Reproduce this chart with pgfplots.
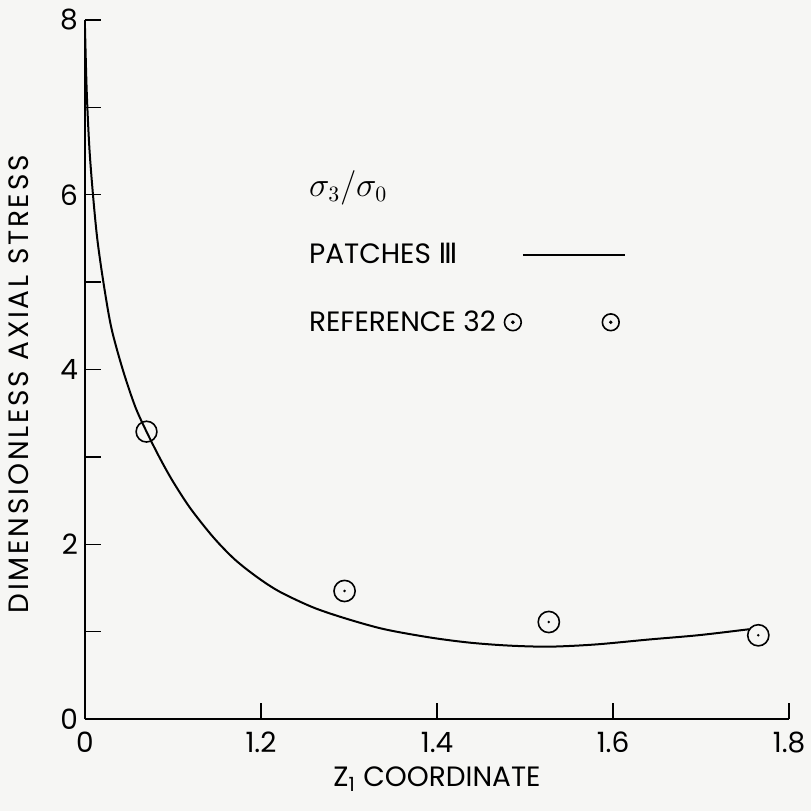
\documentclass[border=0pt]{standalone}
\usepackage{fontspec}
\setmainfont{Poppins}
\newfontfamily\ylfont{Poppins}[LetterSpace=10]
\newfontfamily\dejavu{DejaVu Sans}
\usepackage{pgfplots}
\pgfplotsset{compat=1.18}
\definecolor{paper}{RGB}{246,246,244}
\pgfdeclareplotmark{odot}{%
  \pgfpathcircle{\pgfpointorigin}{\pgfplotmarksize}\pgfusepathqstroke
  \pgfpathcircle{\pgfpointorigin}{0.7pt}\pgfusepathqfill}
\newcommand{\lbl}{\fontsize{14}{16}\selectfont}

\begin{document}
\begin{tikzpicture}
\fill[paper] (-42.5pt,-46pt) rectangle (363.5pt,360pt);
\begin{axis}[
    width=352.5pt, height=350pt, scale only axis,
    xmin=1.0, xmax=1.8, ymin=0, ymax=8,
    axis lines*=left,
    axis line style={line width=0.8pt},
    xtick={1.0,1.2,1.4,1.6,1.8},
    xticklabels={0,1.2,1.4,1.6,1.8},
    ytick={0,1,...,8},
    yticklabels={0,,2,,4,,6,,8},
    tick align=inside,
    major tick length=8pt,
    tick style={line width=0.7pt, black},
    ticklabel style={font=\lbl},
    xticklabel style={yshift=-3pt},
    xlabel={Z\textsubscript{1} COORDINATE},
    ylabel={DIMENSIONLESS AXIAL STRESS},
    x label style={at={(axis description cs:0.5,-0.068)}, anchor=north, inner sep=0pt, font=\lbl},
    y label style={at={(axis description cs:-0.094,0.479)}, anchor=center, inner sep=0pt,
        font={\ylfont\lbl}},
    legend plot pos=right,
    legend style={at={(axis cs:1.2497,6.33)}, anchor=north west, draw=none, fill=none,
        font=\lbl, inner sep=0pt, row sep=18pt, column sep=0pt,
        cells={anchor=west}},
]
\addlegendimage{empty legend}
\addlegendentry{\fontsize{16}{18}\selectfont$\sigma_3/\sigma_0$}

\addplot[black, line width=1pt, smooth,
    legend image code/.code={\path[draw=none] (-2pt,0pt) -- (64pt,0pt);
        \draw[line width=1pt] (9.5pt,0pt) -- (60.5pt,0pt);}]
  coordinates {
    (1.000,7.95) (1.002,7.2) (1.005,6.55) (1.009,6.02) (1.014,5.5)
    (1.021,5.0) (1.030,4.48) (1.043,4.0) (1.057,3.58) (1.070,3.29)
    (1.085,2.99) (1.100,2.72) (1.120,2.41) (1.146,2.08) (1.170,1.83)
    (1.195,1.63) (1.221,1.46) (1.259,1.28) (1.297,1.15) (1.340,1.03)
    (1.392,0.935) (1.437,0.876) (1.482,0.842) (1.528,0.830) (1.580,0.855)
    (1.641,0.912) (1.698,0.962) (1.755,1.03)
  };
\addlegendentry{PATCHES {\dejavu Ⅲ}}

\addplot[only marks, mark=odot, mark size=5.3pt, mark options={line width=0.8pt, black},
    legend image code/.code={\path[draw=none] (-2pt,0pt) -- (64pt,0pt);
        \draw[line width=0.8pt] (4.5pt,0pt) circle (4.2pt) (53.5pt,0pt) circle (4.2pt);
        \fill (4.5pt,0pt) circle (0.7pt) (53.5pt,0pt) circle (0.7pt);}]
  coordinates {(1.295,1.467) (1.527,1.112) (1.765,0.96)};
\addlegendentry{REFERENCE 32}

\addplot[only marks, mark=o, mark size=5.2pt, mark options={line width=0.8pt, black}, forget plot]
  coordinates {(1.070,3.29)};
\end{axis}
\end{tikzpicture}
\end{document}
